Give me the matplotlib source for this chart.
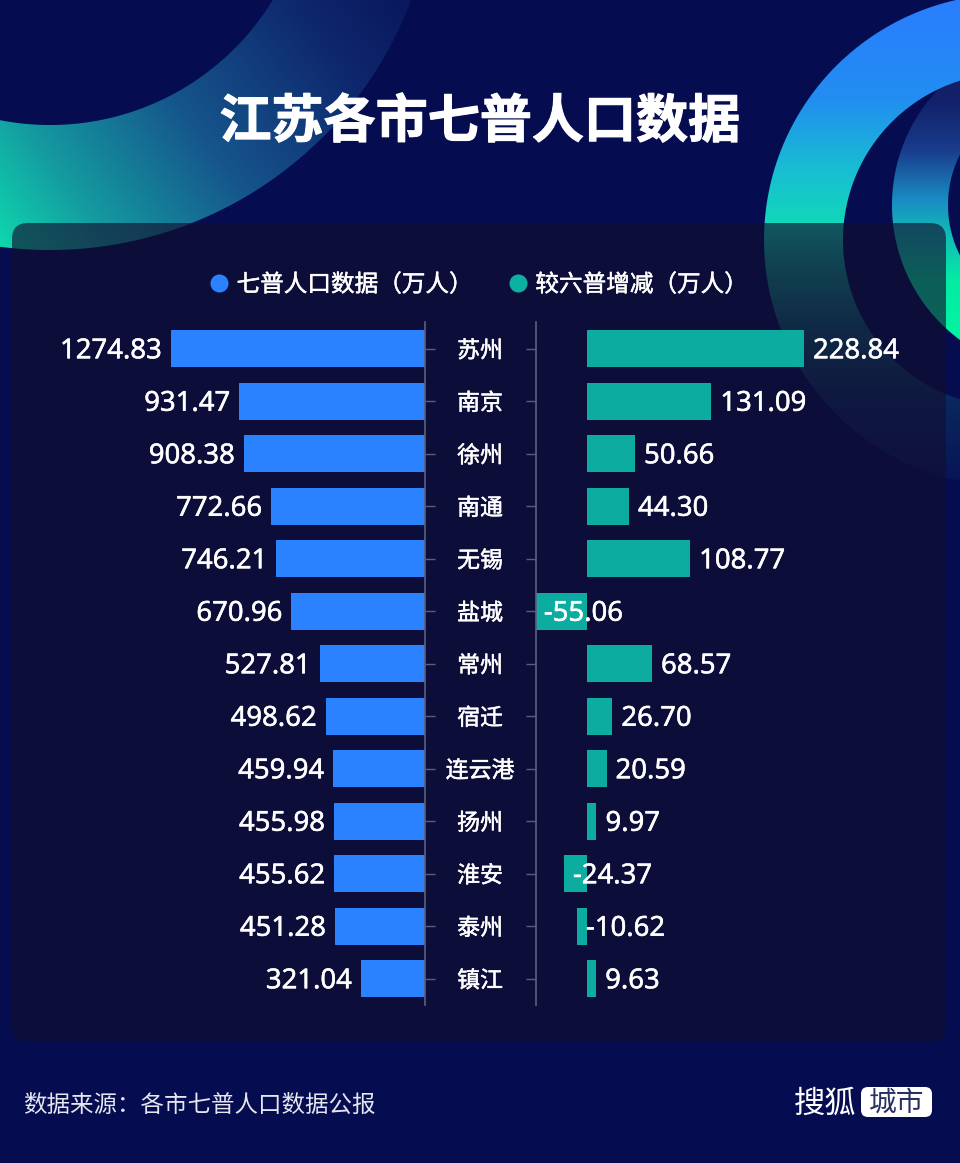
import numpy as np
import matplotlib
matplotlib.use("Agg")
import matplotlib.pyplot as plt
import matplotlib.patheffects as pe
from matplotlib.lines import Line2D
from matplotlib.patches import FancyBboxPatch

plt.rcParams["font.family"] = ["Noto Sans CJK SC", "DejaVu Sans"]

W, H = 960, 1163

# -----------------------------
# Data
# -----------------------------
cities = ["苏州", "南京", "徐州", "南通", "无锡", "盐城", "常州",
          "宿迁", "连云港", "扬州", "淮安", "泰州", "镇江"]
population = [1274.83, 931.47, 908.38, 772.66, 746.21, 670.96, 527.81,
              498.62, 459.94, 455.98, 455.62, 451.28, 321.04]
change = [228.84, 131.09, 50.66, 44.30, 108.77, -55.06, 68.57,
          26.70, 20.59, 9.97, -24.37, -10.62, 9.63]

BG = "#060c50"
BLUE = "#2a82ff"
TEAL = "#0caca0"
AXIS = "#5b5f7e"

# thickens the regular weights towards the medium used in the reference
THICK = [pe.withStroke(linewidth=0.35, foreground="white")]


def ring_image(cx, cy, r_in, r_out, t, stops):
    """RGBA image of a ring with soft edges, coloured by t through (pos, rgb) stops."""
    yy, xx = np.mgrid[0:H, 0:W] + 0.5
    r = np.hypot(xx - cx, yy - cy)
    pos = [s[0] for s in stops]
    img = np.zeros((H, W, 4))
    tv = t(xx, yy)
    for c in range(3):
        img[..., c] = np.interp(tv, pos, [s[1][c] / 255 for s in stops])
    img[..., 3] = np.clip(r - r_in + 0.5, 0, 1) * np.clip(r_out - r + 0.5, 0, 1)
    return img


def px_axes(x0, y0, x1, y1, **kw):
    return fig.add_axes([x0 / W, 1 - y1 / H, (x1 - x0) / W, (y1 - y0) / H], **kw)


fig = plt.figure(figsize=(W / 100, H / 100), dpi=100, facecolor=BG)

# full-figure layer in pixel coords for the backdrop
bg = px_axes(0, 0, W, H)
bg.axis("off")

top_left = ring_image(50, -136, 261, 386, lambda x, y: x - 0.75 * y, [
    (-190, (15, 218, 175)), (-70, (20, 155, 160)), (100, (22, 85, 140)),
    (300, (14, 38, 108)), (420, (10, 22, 90))])
big_ring = ring_image(1010, 240, 167, 246, lambda x, y: y, [
    (0, (42, 125, 255)), (100, (34, 142, 240)), (170, (24, 190, 210)),
    (223, (18, 215, 185)), (270, (15, 150, 140)), (330, (12, 85, 110)),
    (400, (10, 40, 95)), (490, (8, 18, 85))])
inner_ring = ring_image(1060, 205, 112, 168, lambda x, y: y, [
    (100, (18, 32, 105)), (150, (25, 60, 140)), (200, (25, 140, 195)),
    (225, (20, 175, 185)), (280, (5, 235, 165)), (345, (0, 245, 160))])
for img in (top_left, inner_ring, big_ring):
    bg.imshow(img, extent=(0, W, H, 0), interpolation="nearest", aspect="auto", zorder=1)
bg.set_xlim(0, W)
bg.set_ylim(H, 0)

# translucent panel
bg.add_patch(FancyBboxPatch((28, 239), 902, 787, boxstyle="round,pad=16,rounding_size=16",
                            fc="#120f2e", ec="none", alpha=0.64, zorder=2))

# -----------------------------
# Bars
# -----------------------------
y = np.arange(len(cities))
BAR_H = 37 / 52.5

left = px_axes(0, 322.25, 425, 1004.75)
left.patch.set_alpha(0)
left.barh(y, population, height=BAR_H, color=BLUE)
left.set_xlim(425 / 0.1993, 0)
left.set_ylim(len(cities) - 0.5, -0.5)
for s in ("top", "bottom", "left"):
    left.spines[s].set_visible(False)
left.spines["right"].set_color(AXIS)
left.spines["right"].set_linewidth(1.2)
left.xaxis.set_visible(False)
left.yaxis.tick_right()
left.set_yticks(y, cities)
left.tick_params(axis="y", length=7.2, width=1, color=AXIS, pad=32.4,
                 labelcolor="white", labelsize=16.5)
for lab in left.get_yticklabels():
    lab.set_ha("center")
    lab.set_path_effects(THICK)
for yi, v in zip(y, population):
    left.annotate(f"{v:.2f}", (v, yi), xytext=(-6.5, -2), textcoords="offset points",
                  ha="right", va="center", color="white", fontsize=19.8,
                  family="Noto Sans", path_effects=THICK)

right = px_axes(536, 322.25, 960, 1004.75)
right.patch.set_alpha(0)
right.barh(y, change, height=BAR_H, color=TEAL)
right.set_xlim(-51 / 0.948, (960 - 587) / 0.948)
right.set_ylim(len(cities) - 0.5, -0.5)
for s in ("top", "bottom", "right"):
    right.spines[s].set_visible(False)
right.spines["left"].set_color(AXIS)
right.spines["left"].set_linewidth(1.2)
right.xaxis.set_visible(False)
right.set_yticks(y, [""] * len(y))
right.tick_params(axis="y", length=7.2, width=1, color=AXIS)
for yi, v in zip(y, change):
    right.annotate(f"{v:.2f}", (v, yi), xytext=(6.5, -2), textcoords="offset points",
                   ha="left", va="center", color="white", fontsize=19.8,
                   family="Noto Sans", path_effects=THICK, annotation_clip=False)

# -----------------------------
# Text
# -----------------------------
title = fig.text(480 / W, 1 - 122 / H, "江苏各市七普人口数据", ha="center", va="center",
                 color="white", fontsize=37.5, fontweight="bold")
title.set_path_effects([pe.withStroke(linewidth=0.8, foreground="white")])

handles = [Line2D([], [], ls="", marker="o", ms=13, color=BLUE, mec="none"),
           Line2D([], [], ls="", marker="o", ms=13, color="#0cb0a0", mec="none")]
leg = fig.legend(handles, ["七普人口数据（万人）", "较六普增减（万人）"], ncols=2,
                 loc="center", bbox_to_anchor=(477.5 / W, 1 - 285 / H), frameon=False,
                 labelcolor="white", prop={"size": 17},
                 handlelength=1, handletextpad=0.25, columnspacing=1.4)
for t in leg.get_texts():
    t.set_path_effects(THICK)

fig.text(23 / W, 1 - 1105 / H, "数据来源：各市七普人口数据公报", ha="left", va="center",
         color="#e4e6f0", fontsize=16.9)
fig.text(794 / W, 1 - 1104 / H, "搜狐", ha="left", va="center", color="white", fontsize=22.5)
bg.add_patch(FancyBboxPatch((867, 1093), 59, 18, boxstyle="round,pad=6,rounding_size=7",
                            fc="white", ec="none", zorder=3))
bg.text(896.5, 1103, "城市", ha="center", va="center", color="#2a3060", fontsize=20, zorder=4)

fig.savefig("out.png", dpi=100, facecolor=BG)
